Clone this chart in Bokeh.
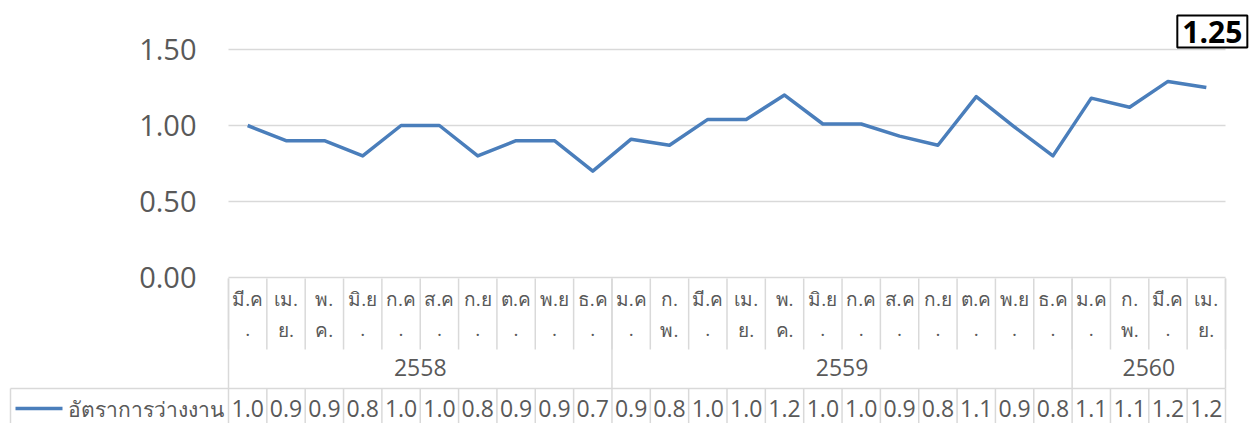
from bokeh.plotting import figure
from bokeh.models import Range1d, Label, ColumnDataSource
from bokeh.core.properties import value
from bokeh.embed import file_html
from bokeh.resources import INLINE

# ---------------- data ----------------
series_name = "อัตราการว่างงาน"
years = ["2558", "2559", "2560"]
months_2558 = ["มี.ค.", "เม.ย.", "พ.ค.", "มิ.ย.", "ก.ค.", "ส.ค.", "ก.ย.", "ต.ค.", "พ.ย.", "ธ.ค."]
months_2559 = ["ม.ค.", "ก.พ.", "มี.ค.", "เม.ย.", "พ.ค.", "มิ.ย.", "ก.ค.", "ส.ค.", "ก.ย.", "ต.ค.", "พ.ย.", "ธ.ค."]
months_2560 = ["ม.ค.", "ก.พ.", "มี.ค.", "เม.ย."]
values_2558 = [1.00, 0.90, 0.90, 0.80, 1.00, 1.00, 0.80, 0.90, 0.90, 0.70]
values_2559 = [0.91, 0.87, 1.04, 1.04, 1.20, 1.01, 1.01, 0.93, 0.87, 1.19, 0.99, 0.80]
values_2560 = [1.18, 1.12, 1.29, 1.25]
table_texts = ["1.0", "0.9", "0.9", "0.8", "1.0", "1.0", "0.8", "0.9", "0.9", "0.7",
               "0.9", "0.8", "1.0", "1.0", "1.2", "1.0", "1.0", "0.9", "0.8", "1.1", "0.9", "0.8",
               "1.1", "1.1", "1.2", "1.2"]
y_ticks = [0.0, 0.5, 1.0, 1.5]
y_tick_labels = ["0.00", "0.50", "1.00", "1.50"]
last_label = "1.25"
# how Excel wrapped the month labels in their narrow cells
wrap = {"มี.ค.": ("มี.ค", "."), "เม.ย.": ("เม.", "ย."), "พ.ค.": ("พ.", "ค."),
        "มิ.ย.": ("มิ.ย", "."), "ก.ค.": ("ก.ค", "."), "ส.ค.": ("ส.ค", "."),
        "ก.ย.": ("ก.ย", "."), "ต.ค.": ("ต.ค", "."), "พ.ย.": ("พ.ย", "."),
        "ธ.ค.": ("ธ.ค", "."), "ม.ค.": ("ม.ค", "."), "ก.พ.": ("ก.", "พ.")}

months = months_2558 + months_2559 + months_2560
values = values_2558 + values_2559 + values_2560
groups = [months_2558, months_2559, months_2560]
N = len(months)

# ---------------- layout (picture pixels) ----------------
W, H = 1255, 423
ORIGIN_X, ORIGIN_Y = 0, 0
PX_LEFT, PX_RIGHT = 228.0, 1225.0     # plot area
PY_ZERO, PY_PER_UNIT = 277.0, 152.0
unit = (PX_RIGHT - PX_LEFT) / N

def dx(px):
    return (px - PX_LEFT) / unit

def dy(py):
    return (PY_ZERO - py) / PY_PER_UNIT

p = figure(width=W, height=H, output_backend="svg", toolbar_location=None,
           x_range=Range1d(dx(ORIGIN_X), dx(ORIGIN_X + W)),
           y_range=Range1d(dy(ORIGIN_Y + H), dy(ORIGIN_Y)),
           x_axis_type=None, y_axis_type=None, min_border=0)
p.grid.visible = False
p.outline_line_color = None
p.background_fill_color = "white"
p.border_fill_color = "white"

GRID = "#d9d9d9"
TXT = "#595959"
BLUE = "#4a7ebb"
FONT = value("Open Sans")

# gridlines / axis line
p.segment(x0=[0] * len(y_ticks), x1=[N] * len(y_ticks), y0=y_ticks, y1=y_ticks,
          line_color=GRID, line_width=1.5)
# y tick labels
p.text(x=[dx(196)] * len(y_ticks), y=y_ticks, text=y_tick_labels, text_font=FONT,
       text_font_size="29px", text_color=TXT, text_align="right", text_baseline="middle")

# table lines
ks = list(range(N + 1))
p.segment(x0=ks, x1=ks, y0=[dy(278)] * len(ks), y1=[dy(349)] * len(ks),
          line_color=GRID, line_width=1.5)
bounds = [0]
for g in groups:
    bounds.append(bounds[-1] + len(g))
p.segment(x0=bounds, x1=bounds, y0=[dy(278)] * len(bounds), y1=[dy(388)] * len(bounds),
          line_color=GRID, line_width=1.5)
p.segment(x0=[dx(10)], x1=[N], y0=[dy(388)], y1=[dy(388)], line_color=GRID, line_width=1.5)
dks = [dx(10)] + ks
p.segment(x0=dks, x1=dks, y0=[dy(388)] * len(dks), y1=[dy(430)] * len(dks),
          line_color=GRID, line_width=1.5)

# month labels (two wrapped lines)
xc = [i + 0.5 for i in range(N)]
line1 = [wrap[m][0] for m in months]
line2 = [wrap[m][1] for m in months]
p.text(x=xc, y=[dy(298)] * N, text=line1, text_font=FONT, text_font_size="19px",
       text_color=TXT, text_align="center", text_baseline="middle")
p.text(x=xc, y=[dy(329)] * N, text=line2, text_font=FONT, text_font_size="19px",
       text_color=TXT, text_align="center", text_baseline="middle")
# year labels
ycent = [(bounds[i] + bounds[i + 1]) / 2 for i in range(len(groups))]
p.text(x=ycent, y=[dy(367)] * len(years), text=years, text_font=FONT, text_font_size="23px",
       text_color=TXT, text_align="center", text_baseline="middle")
# data table values
p.text(x=xc, y=[dy(408)] * N, text=table_texts, text_font=FONT, text_font_size="23px",
       text_color=TXT, text_align="center", text_baseline="middle")
# legend key in table
p.line(x=[dx(15), dx(62)], y=[dy(408), dy(408)], line_color=BLUE, line_width=3.5)
p.text(x=[dx(67)], y=[dy(408)], text=[series_name], text_font=FONT, text_font_size="21px",
       text_color=TXT, text_align="left", text_baseline="middle")

# the series
src = ColumnDataSource(dict(x=xc, y=values))
p.line("x", "y", source=src, line_color=BLUE, line_width=3.5, line_join="round")

# boxed last value label
lab = Label(x=xc[-1], y=values[-1], text=last_label, x_offset=6, y_offset=56,
            text_font="Open Sans", text_font_size="30px", text_font_style="bold",
            text_color="black", text_align="center", text_baseline="middle",
            border_line_color="black", border_line_width=2,
            background_fill_color="white", padding=5)
p.add_layout(lab)

open("out.html", "w").write(file_html(p, INLINE))
